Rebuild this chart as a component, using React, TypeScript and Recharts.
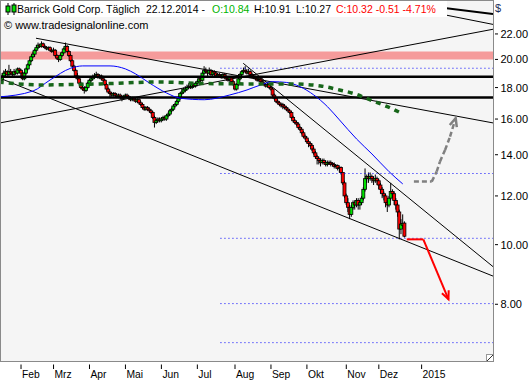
import React from "react";
import {
  ComposedChart,
  Bar,
  Line,
  XAxis,
  YAxis,
  CartesianGrid,
  ReferenceLine,
  ReferenceArea,
} from "recharts";

// daily bars as [open, high, low, close], grouped by month
type Ohlc = [number, number, number, number];

const janBars: Ohlc[] = [
  [18.1, 18.5, 18.0, 18.3], [18.3, 18.7, 18.2, 18.5], [18.5, 19.0, 18.4, 18.8], [18.8, 19.2, 18.7, 19.0], [19.0, 19.3, 18.8, 19.1],
  [19.1, 19.2, 18.7, 18.9], [18.9, 19.6, 18.8, 19.1], [19.1, 19.3, 18.9, 19.0], [19.0, 19.1, 18.7, 18.9], [18.9, 19.3, 18.8, 19.1],
  [19.1, 19.2, 18.9, 19.0], [19.0, 19.4, 18.9, 19.3], [19.3, 19.4, 19.0, 19.2],
];
const febBars: Ohlc[] = [
  [19.2, 19.3, 18.8, 19.0], [19.0, 19.1, 18.5, 18.6], [18.6, 19.1, 18.5, 19.0], [19.0, 19.4, 18.9, 19.3], [19.3, 19.7, 19.2, 19.6],
  [19.6, 20.0, 19.5, 19.9], [19.9, 20.3, 19.8, 20.2], [20.2, 20.6, 20.1, 20.4], [20.4, 20.8, 20.2, 20.7], [20.7, 21.1, 20.6, 20.9],
  [20.9, 21.3, 20.8, 21.1], [21.1, 21.2, 20.9, 21.0], [21.0, 21.4, 20.9, 21.2], [21.2, 21.3, 20.9, 21.0], [21.0, 21.1, 20.8, 20.9],
  [20.9, 21.0, 20.7, 20.8], [20.8, 21.0, 20.7, 20.9], [20.9, 21.0, 20.6, 20.7], [20.7, 20.8, 20.5, 20.6],
];
const marBars: Ohlc[] = [
  [20.6, 20.9, 20.5, 20.7], [20.7, 20.8, 20.2, 20.3], [20.3, 20.4, 20.0, 20.1], [20.1, 20.2, 19.8, 20.0], [20.0, 20.4, 19.9, 20.3],
  [20.3, 20.6, 20.2, 20.5], [20.5, 20.9, 20.4, 20.8], [20.8, 21.3, 20.7, 21.0], [21.0, 21.1, 20.5, 20.6], [20.6, 20.7, 20.2, 20.3],
  [20.3, 20.4, 19.8, 19.9], [19.9, 20.0, 19.4, 19.5], [19.5, 19.6, 19.1, 19.2], [19.2, 19.3, 18.7, 18.8], [18.8, 19.0, 18.5, 18.6],
  [18.6, 18.7, 18.2, 18.3], [18.3, 18.4, 17.9, 18.0], [18.0, 18.2, 17.8, 17.9], [17.9, 18.1, 17.6, 17.8], [17.8, 18.1, 17.7, 18.0],
  [18.0, 18.4, 17.9, 18.3],
];
const aprBars: Ohlc[] = [
  [18.3, 18.6, 18.2, 18.5], [18.5, 18.8, 18.4, 18.6], [18.6, 18.9, 18.5, 18.7], [18.7, 19.0, 18.6, 18.8], [18.8, 19.1, 18.7, 18.9],
  [18.9, 19.0, 18.6, 18.7], [18.7, 18.9, 18.6, 18.8], [18.8, 18.9, 18.5, 18.6], [18.6, 18.7, 18.4, 18.5], [18.5, 18.6, 18.1, 18.2],
  [18.2, 18.3, 17.8, 17.9], [17.9, 18.0, 17.6, 17.7], [17.7, 17.8, 17.3, 17.6], [17.6, 17.7, 17.4, 17.5], [17.5, 17.7, 17.4, 17.6],
  [17.6, 17.7, 17.4, 17.5], [17.5, 17.6, 17.3, 17.4], [17.4, 17.6, 17.3, 17.5], [17.5, 17.6, 17.2, 17.4], [17.4, 17.5, 17.1, 17.3],
  [17.3, 17.5, 17.2, 17.4],
];
const mayBars: Ohlc[] = [
  [17.4, 17.6, 17.3, 17.5], [17.5, 17.6, 17.3, 17.4], [17.4, 17.5, 17.2, 17.3], [17.3, 17.4, 17.1, 17.2], [17.2, 17.4, 17.1, 17.3],
  [17.3, 17.4, 17.1, 17.2], [17.2, 17.3, 17.0, 17.1], [17.1, 17.3, 17.0, 17.2], [17.2, 17.3, 16.9, 17.0], [17.0, 17.1, 16.8, 16.9],
  [16.9, 17.0, 16.6, 16.7], [16.7, 16.8, 16.5, 16.6], [16.6, 16.8, 16.5, 16.7], [16.7, 16.8, 16.5, 16.6], [16.6, 16.7, 16.4, 16.5],
  [16.5, 16.6, 16.3, 16.4], [16.4, 16.5, 16.0, 16.1], [16.1, 16.2, 15.5, 15.8], [15.8, 16.0, 15.7, 15.9], [15.9, 16.1, 15.8, 16.0],
  [16.0, 16.1, 15.8, 15.9],
];
const junBars: Ohlc[] = [
  [15.9, 16.1, 15.8, 16.0], [16.0, 16.2, 15.9, 16.1], [16.1, 16.2, 15.9, 16.0], [16.0, 16.3, 15.9, 16.2], [16.2, 16.4, 16.1, 16.3],
  [16.3, 16.6, 16.2, 16.5], [16.5, 16.7, 16.4, 16.6], [16.6, 16.9, 16.5, 16.8], [16.8, 17.0, 16.7, 16.9], [16.9, 17.2, 16.8, 17.1],
  [17.1, 17.4, 17.0, 17.3], [17.3, 17.7, 17.2, 17.6], [17.6, 17.9, 17.5, 17.7], [17.7, 18.0, 17.6, 17.9], [17.8, 18.1, 17.7, 17.9],
  [17.9, 18.2, 17.8, 18.0], [18.0, 18.3, 17.9, 18.1], [18.1, 18.2, 17.9, 18.0], [18.0, 18.3, 17.9, 18.2], [18.2, 18.3, 18.0, 18.1],
  [18.1, 18.4, 18.0, 18.3],
];
const julBars: Ohlc[] = [
  [18.3, 18.5, 18.2, 18.4], [18.4, 18.7, 18.3, 18.6], [18.6, 18.7, 18.4, 18.5], [18.5, 19.1, 18.4, 19.0], [19.0, 19.5, 18.9, 19.2],
  [19.2, 19.4, 19.0, 19.1], [19.1, 19.2, 18.8, 19.0], [19.0, 19.4, 18.9, 19.2], [19.2, 19.3, 18.8, 18.9], [18.9, 19.2, 18.8, 19.1],
  [19.1, 19.2, 18.9, 19.0], [19.0, 19.1, 18.7, 18.8], [18.8, 19.0, 18.7, 18.9], [18.9, 19.0, 18.7, 18.8], [18.8, 18.9, 18.6, 18.7],
  [18.7, 19.0, 18.6, 18.9], [18.9, 19.0, 18.6, 18.7], [18.7, 18.8, 18.5, 18.6], [18.6, 18.7, 18.4, 18.5], [18.5, 18.8, 18.4, 18.7],
  [18.7, 18.8, 18.3, 18.4], [18.4, 18.5, 18.1, 18.2],
];
const augBars: Ohlc[] = [
  [18.2, 18.3, 17.8, 17.9], [17.9, 18.3, 17.8, 18.2], [18.2, 18.7, 18.1, 18.6], [18.6, 19.0, 18.5, 18.9], [18.9, 19.2, 18.8, 19.1],
  [19.1, 19.4, 19.0, 19.2], [19.2, 19.5, 19.0, 19.1], [19.1, 19.3, 18.9, 19.0], [19.0, 19.3, 18.9, 19.1], [19.1, 19.2, 18.8, 18.9],
  [18.9, 19.0, 18.7, 18.8], [18.8, 18.9, 18.6, 18.7], [18.7, 18.8, 18.5, 18.6], [18.6, 18.7, 18.4, 18.5], [18.5, 18.7, 18.4, 18.6],
  [18.6, 18.7, 18.3, 18.4], [18.4, 18.5, 18.2, 18.3], [18.3, 18.4, 18.1, 18.2], [18.2, 18.3, 18.0, 18.1], [18.1, 18.3, 18.0, 18.2],
  [18.2, 18.3, 17.9, 18.0],
];
const sepBars: Ohlc[] = [
  [18.0, 18.1, 17.8, 17.9], [17.9, 18.0, 17.4, 17.5], [17.5, 17.6, 17.2, 17.3], [17.3, 17.4, 17.0, 17.1], [17.1, 17.2, 16.9, 17.0],
  [17.0, 17.1, 16.8, 16.9], [16.9, 17.0, 16.7, 16.8], [16.9, 17.0, 16.6, 16.8], [16.8, 16.9, 16.6, 16.7], [16.7, 16.8, 16.5, 16.6],
  [16.6, 16.7, 16.4, 16.5], [16.5, 16.6, 16.3, 16.4], [16.4, 16.5, 16.0, 16.1], [16.1, 16.2, 15.8, 15.9], [15.9, 16.0, 15.7, 15.8],
  [15.8, 15.9, 15.6, 15.7], [15.7, 15.8, 15.4, 15.5], [15.5, 15.6, 15.3, 15.4], [15.4, 15.5, 15.1, 15.2], [15.2, 15.3, 14.9, 15.0],
  [15.0, 15.1, 14.8, 14.9],
];
const octBars: Ohlc[] = [
  [14.9, 15.0, 14.6, 14.7], [14.7, 14.8, 14.4, 14.6], [14.6, 14.7, 14.4, 14.5], [14.5, 14.6, 14.2, 14.3], [14.3, 14.4, 14.0, 14.1],
  [14.1, 14.2, 13.8, 13.9], [13.9, 14.0, 13.5, 13.8], [13.8, 13.9, 13.5, 13.7], [13.7, 13.8, 13.4, 13.6], [13.6, 13.8, 13.5, 13.7],
  [13.7, 13.8, 13.5, 13.6], [13.6, 13.7, 13.4, 13.5], [13.5, 13.7, 13.4, 13.6], [13.55, 13.7, 13.5, 13.6], [13.6, 13.7, 13.4, 13.5],
  [13.55, 13.6, 13.4, 13.5], [13.5, 13.6, 13.3, 13.4], [13.4, 13.5, 13.3, 13.45], [13.45, 13.5, 13.2, 13.3], [13.3, 13.4, 13.1, 13.35],
  [13.35, 13.4, 13.0, 13.1], [13.1, 13.1, 12.5, 12.6], [12.6, 12.7, 11.9, 12.0],
];
const novBars: Ohlc[] = [
  [12.0, 12.1, 11.6, 11.7], [11.7, 11.9, 11.3, 11.5], [11.5, 11.6, 11.0, 11.2], [11.2, 11.6, 11.1, 11.5], [11.5, 11.8, 11.4, 11.7],
  [11.7, 11.8, 11.4, 11.6], [11.6, 11.9, 11.5, 11.8], [11.8, 11.9, 11.4, 11.6], [11.6, 11.8, 11.4, 11.7], [11.7, 12.0, 11.6, 11.9],
  [11.9, 12.4, 11.8, 12.3], [12.3, 13.3, 12.2, 12.8], [12.8, 13.0, 12.6, 12.9], [12.9, 13.1, 12.6, 12.8], [12.8, 13.1, 12.7, 12.9],
  [12.9, 13.0, 12.6, 12.8], [12.8, 12.9, 12.5, 12.7], [12.7, 13.0, 12.6, 12.8], [12.8, 12.9, 12.5, 12.7],
];
const decBars: Ohlc[] = [
  [12.7, 12.8, 12.3, 12.5], [12.5, 12.6, 12.1, 12.3], [12.3, 12.4, 11.9, 12.1], [12.1, 12.2, 11.8, 12.0], [12.0, 12.1, 11.5, 11.7],
  [11.7, 11.8, 11.3, 11.6], [11.6, 12.0, 11.5, 11.9], [11.9, 12.6, 11.8, 12.2], [12.2, 12.3, 11.9, 12.1], [12.1, 12.2, 11.6, 11.8],
  [11.8, 11.9, 11.4, 11.6], [11.6, 11.7, 11.1, 11.3], [11.3, 11.4, 10.2, 10.6], [10.6, 11.0, 10.4, 10.8], [10.75, 11.2, 10.7, 10.83],
  [10.84, 10.91, 10.27, 10.32],
];

const monthLabels = ["Jan", "Feb", "Mrz", "Apr", "Mai", "Jun", "Jul", "Aug", "Sep", "Okt", "Nov", "Dez"];
const monthBars = [janBars, febBars, marBars, aprBars, mayBars, junBars, julBars, augBars, sepBars, octBars, novBars, decBars];
const nextYearLabel = "2015";
const nextYearIndex = 247;

// moving averages: [bar index, price]
const blueAverage: [number, number][] = [
  [0, 17.38], [20, 17.77], [30, 18.52], [42, 19.35], [49, 19.52], [65, 19.52], [74, 19.3], [80, 18.94],
  [88, 18.31], [98, 17.64], [106, 17.3], [120, 17.2], [135, 17.51], [145, 17.84], [153, 18.18], [160, 18.4],
  [168, 18.35], [176, 18.06], [184, 17.51], [192, 16.76], [199, 15.95], [209, 14.85], [218, 14.04], [228, 13.14],
  [236, 12.55],
];
const greenAverage: [number, number][] = [
  [0, 18.38], [24, 18.18], [59, 18.25], [94, 18.38], [117, 18.28], [147, 18.25], [170, 18.25], [188, 18.11],
  [199, 17.84], [208, 17.58], [217, 17.19], [227, 16.76], [236, 16.31],
];

// drawn levels and trend lines
const priceTicks = [8, 10, 12, 14, 16, 18, 20, 22];
const resistanceBand: [number, number] = [20.0, 20.6];
const thickLevels = [18.75, 17.34];
const dottedLevels = [19.35, 13.05, 10.24, 8.02, 6.93];
const dottedFrom = 129.5;
const trendLines: [number, number][][] = [
  [[21.75, 21.65], [288.7, 15.77]],
  [[0.724, 15.77], [288.7, 22.39]],
  [[0.724, 18.64], [288.7, 8.89]],
  [[142.8, 19.71], [288.7, 9.21]],
  [[216.8, 24.98], [288.7, 22.8]],
];
const heavyTrend: [number, number][] = [[222.7, 24.98], [288.7, 23.71]];
const bearPath: [number, number][] = [[238.3, 10.2], [248.0, 10.2], [262.7, 8.15]];
const bullPath: [number, number][] = [
  [242.5, 12.66], [252.9, 12.66], [255.8, 13.14], [257.7, 13.64], [260.7, 14.25], [263.6, 14.98], [266.9, 16.05],
];

const xDomain: [number, number] = [0.724, 288.7];
const yDomain: [number, number] = [6.47, 24.98];

const FONT = '"Liberation Sans", Arial, sans-serif';

type Row = { i: number; range?: [number, number]; o?: number; h?: number; l?: number; c?: number; blue?: number; green?: number };

function buildRows(): Row[] {
  const all = monthBars.flat();
  const rows: Row[] = all.map(([o, h, l, c], i) => ({ i, range: [l, h], o, h, l, c }));
  blueAverage.forEach(([i, v]) => { rows[i].blue = v; });
  greenAverage.forEach(([i, v]) => { rows[i].green = v; });
  return rows;
}

function monthTickIndexes(): number[] {
  const out: number[] = [];
  let start = 0;
  monthBars.forEach((bars, m) => {
    if (m > 0) out.push(start);
    start += bars.length;
  });
  out.push(nextYearIndex);
  return out;
}

function Candle(props: any) {
  const { x, y, width, height, payload } = props;
  if (!payload || typeof y !== "number" || typeof height !== "number") return null;
  const { o, h, l, c } = payload as Row;
  if (o == null || h == null || l == null || c == null) return null;
  const cx = x + width / 2;
  const span = Math.log(h) - Math.log(l);
  const py = (v: number) => (span > 0 ? y + ((Math.log(h) - Math.log(v)) / span) * height : y);
  const yo = py(o);
  const yc = py(c);
  const top = Math.min(yo, yc);
  const bh = Math.max(Math.abs(yo - yc), 1);
  return (
    <g>
      <line x1={cx} x2={cx} y1={y} y2={y + height} stroke="#000" strokeWidth={1} />
      <rect x={cx - 1.5} y={top} width={3} height={bh} fill={c >= o ? "#00e000" : "#ff0000"} stroke="#000" strokeWidth={0.8} />
    </g>
  );
}

function arrowShape(color: string, width: number, dash?: string) {
  return (props: any) => {
    const { x1, y1, x2, y2 } = props;
    const ang = Math.atan2(y2 - y1, x2 - x1);
    const len = 9;
    const spread = 0.42;
    const ax = x2 - len * Math.cos(ang - spread);
    const ay = y2 - len * Math.sin(ang - spread);
    const bx = x2 - len * Math.cos(ang + spread);
    const by = y2 - len * Math.sin(ang + spread);
    return (
      <g>
        <line x1={x1} y1={y1} x2={x2} y2={y2} stroke={color} strokeWidth={width} strokeDasharray={dash} />
        <polyline points={`${ax},${ay} ${x2},${y2} ${bx},${by}`} fill="none" stroke={color} strokeWidth={width} />
      </g>
    );
  };
}

function MonthTick({ x, y, payload }: any) {
  const labels = monthTickIndexes();
  const k = labels.indexOf(payload.value);
  const text = k === labels.length - 1 ? nextYearLabel : monthLabels[k + 1];
  return (
    <g>
      <line x1={x} x2={x} y1={y + 3.5} y2={y + 8} stroke="#000" />
      <text x={x + 1} y={y + 16.5} fontSize={10.3} fontFamily={FONT} fill="#000" textAnchor="start">
        {text}
      </text>
    </g>
  );
}

function PriceTick({ x, y, payload }: any) {
  return (
    <g>
      <line x1={x + 2} x2={x + 5} y1={y} y2={y} stroke="#000" />
      <text x={x + 7.5} y={y + 4} fontSize={11} fontFamily={FONT} fill="#000" textAnchor="start">
        {Number(payload.value).toFixed(2)}
      </text>
    </g>
  );
}

function pathSegments(path: [number, number][]) {
  return path.slice(1).map((p, k) => [path[k], p] as [number, number][]);
}

export default function App() {
  const rows = buildRows();
  const ticks = monthTickIndexes();
  const bearSegs = pathSegments(bearPath);
  const bullSegs = pathSegments(bullPath);

  return (
    <div style={{ position: "absolute", left: 0, top: 0, width: 529, height: 380, background: "#fff", overflow: "hidden" }}>
      <ComposedChart width={529} height={380} data={rows} margin={{ top: 0, right: 0, bottom: 0, left: 0 }}>
        <CartesianGrid horizontal={false} vertical={false} fill="#f5f5f5" stroke="none" />
        <XAxis
          dataKey="i"
          type="number"
          domain={xDomain}
          allowDataOverflow
          ticks={ticks}
          interval={0}
          height={19}
          tickSize={0}
          tickMargin={0}
          tickLine={false}
          axisLine={false}
          tick={<MonthTick />}
        />
        <YAxis
          orientation="right"
          scale="log"
          domain={yDomain}
          allowDataOverflow
          ticks={priceTicks}
          interval={0}
          width={36}
          tickSize={0}
          tickMargin={0}
          tickLine={false}
          axisLine={false}
          tick={<PriceTick />}
        />
        <ReferenceArea y1={resistanceBand[0]} y2={resistanceBand[1]} fill="#f59b9b" fillOpacity={1} stroke="none" ifOverflow="hidden" />
        {dottedLevels.map((p) => (
          <ReferenceLine key={`d${p}`} segment={[{ x: dottedFrom, y: p }, { x: xDomain[1], y: p }]} stroke="#0000ff" strokeDasharray="1 3" ifOverflow="hidden" />
        ))}
        {thickLevels.map((p) => (
          <ReferenceLine key={`t${p}`} y={p} stroke="#000" strokeWidth={2.5} ifOverflow="hidden" />
        ))}
        {trendLines.map((seg, k) => (
          <ReferenceLine key={`tl${k}`} segment={seg.map(([x, y]) => ({ x, y }))} stroke="#000" strokeWidth={1} ifOverflow="hidden" />
        ))}
        <ReferenceLine segment={heavyTrend.map(([x, y]) => ({ x, y }))} stroke="#000" strokeWidth={2} ifOverflow="hidden" />
        <Bar dataKey="range" shape={<Candle />} barSize={2} isAnimationActive={false} />
        <Line dataKey="blue" type="monotone" stroke="#0000ff" strokeWidth={1} dot={false} activeDot={false} connectNulls isAnimationActive={false} />
        <Line dataKey="green" type="monotone" stroke="#17661a" strokeWidth={3.5} strokeDasharray="5 5" dot={false} activeDot={false} connectNulls isAnimationActive={false} />
        {bearSegs.map((seg, k) => (
          <ReferenceLine
            key={`b${k}`}
            segment={seg.map(([x, y]) => ({ x, y }))}
            stroke="#ff0000"
            strokeWidth={2}
            ifOverflow="hidden"
            shape={k === bearSegs.length - 1 ? arrowShape("#ff0000", 2) : undefined}
          />
        ))}
        {bullSegs.map((seg, k) => (
          <ReferenceLine
            key={`u${k}`}
            segment={seg.map(([x, y]) => ({ x, y }))}
            stroke="#808080"
            strokeWidth={2.5}
            strokeDasharray="5 3"
            ifOverflow="hidden"
            shape={k === bullSegs.length - 1 ? arrowShape("#808080", 2.5, "5 3") : undefined}
          />
        ))}
      </ComposedChart>

      <div style={{ position: "absolute", left: 0, top: 0, width: 494, height: 362, boxSizing: "border-box", border: "1px solid #8a8a8a", pointerEvents: "none" }} />
      <div style={{ position: "absolute", left: 486, top: 354, width: 6, height: 6, borderLeft: "1px solid #999", borderTop: "1px solid #999", background: "#fff" }}>
        <svg width={6} height={6} style={{ display: "block" }}>
          <line x1={0} y1={6} x2={6} y2={0} stroke="#333" />
        </svg>
      </div>

      <div style={{ position: "absolute", left: 1, top: 1, width: 446, height: 16, background: "#fff", fontFamily: FONT, fontSize: 10.5, whiteSpace: "nowrap" }}>
        <svg width={12} height={14} style={{ position: "absolute", left: 4, top: 1 }}>
          <line x1={3} y1={1} x2={3} y2={13} stroke="#000" />
          <rect x={1} y={4} width={4} height={6} fill="#00e000" stroke="#000" />
          <line x1={9} y1={1} x2={9} y2={13} stroke="#000" />
          <rect x={7} y={3} width={4} height={7} fill="#00e000" stroke="#000" />
        </svg>
        <span style={{ position: "absolute", left: 16, top: 2 }}>Barrick Gold Corp. Täglich</span>
        <span style={{ position: "absolute", left: 145, top: 2 }}>22.12.2014 -</span>
        <span style={{ position: "absolute", left: 211, top: 2, color: "#00b400" }}>O:10.84</span>
        <span style={{ position: "absolute", left: 253, top: 2 }}>H:10.91</span>
        <span style={{ position: "absolute", left: 295, top: 2 }}>L:10.27</span>
        <span style={{ position: "absolute", left: 335, top: 2, color: "#ff0000" }}>C:10.32 -0.51 -4.71%</span>
      </div>
      <div style={{ position: "absolute", left: 4, top: 19, fontFamily: FONT, fontSize: 11, whiteSpace: "nowrap", color: "#000" }}>
        © www.tradesignalonline.com
      </div>
      <div style={{ position: "absolute", left: 495, top: 2, fontFamily: FONT, fontSize: 11, color: "#1c2d5a" }}>$</div>
    </div>
  );
}
